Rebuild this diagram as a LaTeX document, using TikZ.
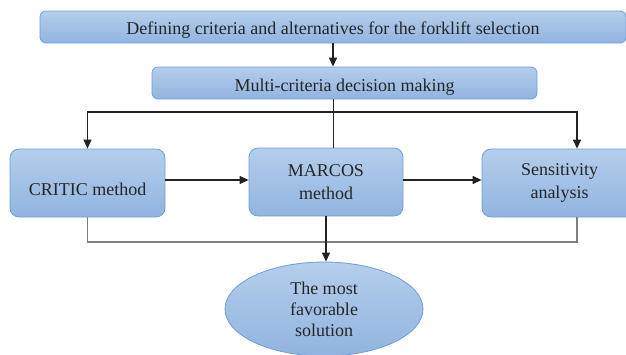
\documentclass[tikz,border=0pt]{standalone}
\usepackage{fontspec}
\setmainfont{Liberation Serif}
\usetikzlibrary{arrows.meta,shapes.geometric}
\definecolor{boxtop}{HTML}{B4CEEC}
\definecolor{boxbot}{HTML}{91B4DF}
\definecolor{boxline}{HTML}{6F9FD6}
\definecolor{darkline}{HTML}{222222}
\definecolor{greyline}{HTML}{7F7F7F}
\tikzset{
	stepbox/.style={draw=boxline, line width=0.8pt, rounded corners=6pt, top color=boxtop, bottom color=boxbot, align=center, font=\fontsize{18}{22.5}\selectfont, text=black!85, inner sep=0pt},
	goal/.style={ellipse, draw=boxline, line width=0.8pt, top color=boxtop, bottom color=boxbot, align=center, font=\fontsize{18}{21}\selectfont, text=black!85, inner sep=0pt},
	flow/.style={draw=darkline, line width=1.3pt, -{Triangle[length=9pt,width=8pt]}},
	plain/.style={draw=darkline, line width=1pt},
	back/.style={draw=greyline, line width=1.3pt}
}

\begin{document}
\begin{tikzpicture}[x=1pt, y=-1pt]
			%%%%% START %%%%%
			\useasboundingbox (0, 0) rectangle (626, 354);
			
			\node[stepbox, minimum width=586pt, minimum height=32pt, text height=14pt, text depth=0pt] (define) at (333, 27) {Defining criteria and alternatives for the forklift selection};
			\node[stepbox, minimum width=385pt, minimum height=32pt, text height=16pt, text depth=0pt] (mcdm) at (344.5, 83) {Multi-criteria decision making};
			
			\node[stepbox, rounded corners=9pt, minimum width=155pt, minimum height=68pt, text height=25pt] (critic) at (87.5, 183) {CRITIC method};
			\node[stepbox, rounded corners=9pt, minimum width=154pt, minimum height=68pt] (marcos) at (326, 182) {MARCOS\\method};
			\node[stepbox, rounded corners=9pt, minimum width=155pt, minimum height=68pt] (sens) at (559.5, 183) {Sensitivity\\analysis};
			
			\node[goal, minimum width=198pt, minimum height=94pt] (best) at (324, 309) {The most\\favorable\\solution};
			
			% top of the flow
			\draw[flow] (define.south) -- (define.south |- mcdm.north);
			\coordinate (split) at (define.south |- 0, 112);
			\draw[plain] (define.south |- mcdm.south) -- (define.south |- marcos.north);
			\draw[flow] (split) -| (critic.north);
			\draw[flow] (split) -| ([xshift=17.5pt]sens.north);
			
			% across the methods
			\draw[flow] (critic.east |- 0, 180) -- (marcos.west |- 0, 180);
			\draw[flow] (marcos.east |- 0, 180) -- (sens.west |- 0, 180);
			
			% back to the solution
			\coordinate (join) at (marcos.south |- 0, 242);
			\draw[back] (critic.south) |- ([xshift=17.5pt]sens.south |- join) -- ([xshift=17.5pt]sens.south);
			\draw[flow] (marcos.south) -- (marcos.south |- best.north);
			
			%%%%% END %%%%%
\end{tikzpicture}
\end{document}
